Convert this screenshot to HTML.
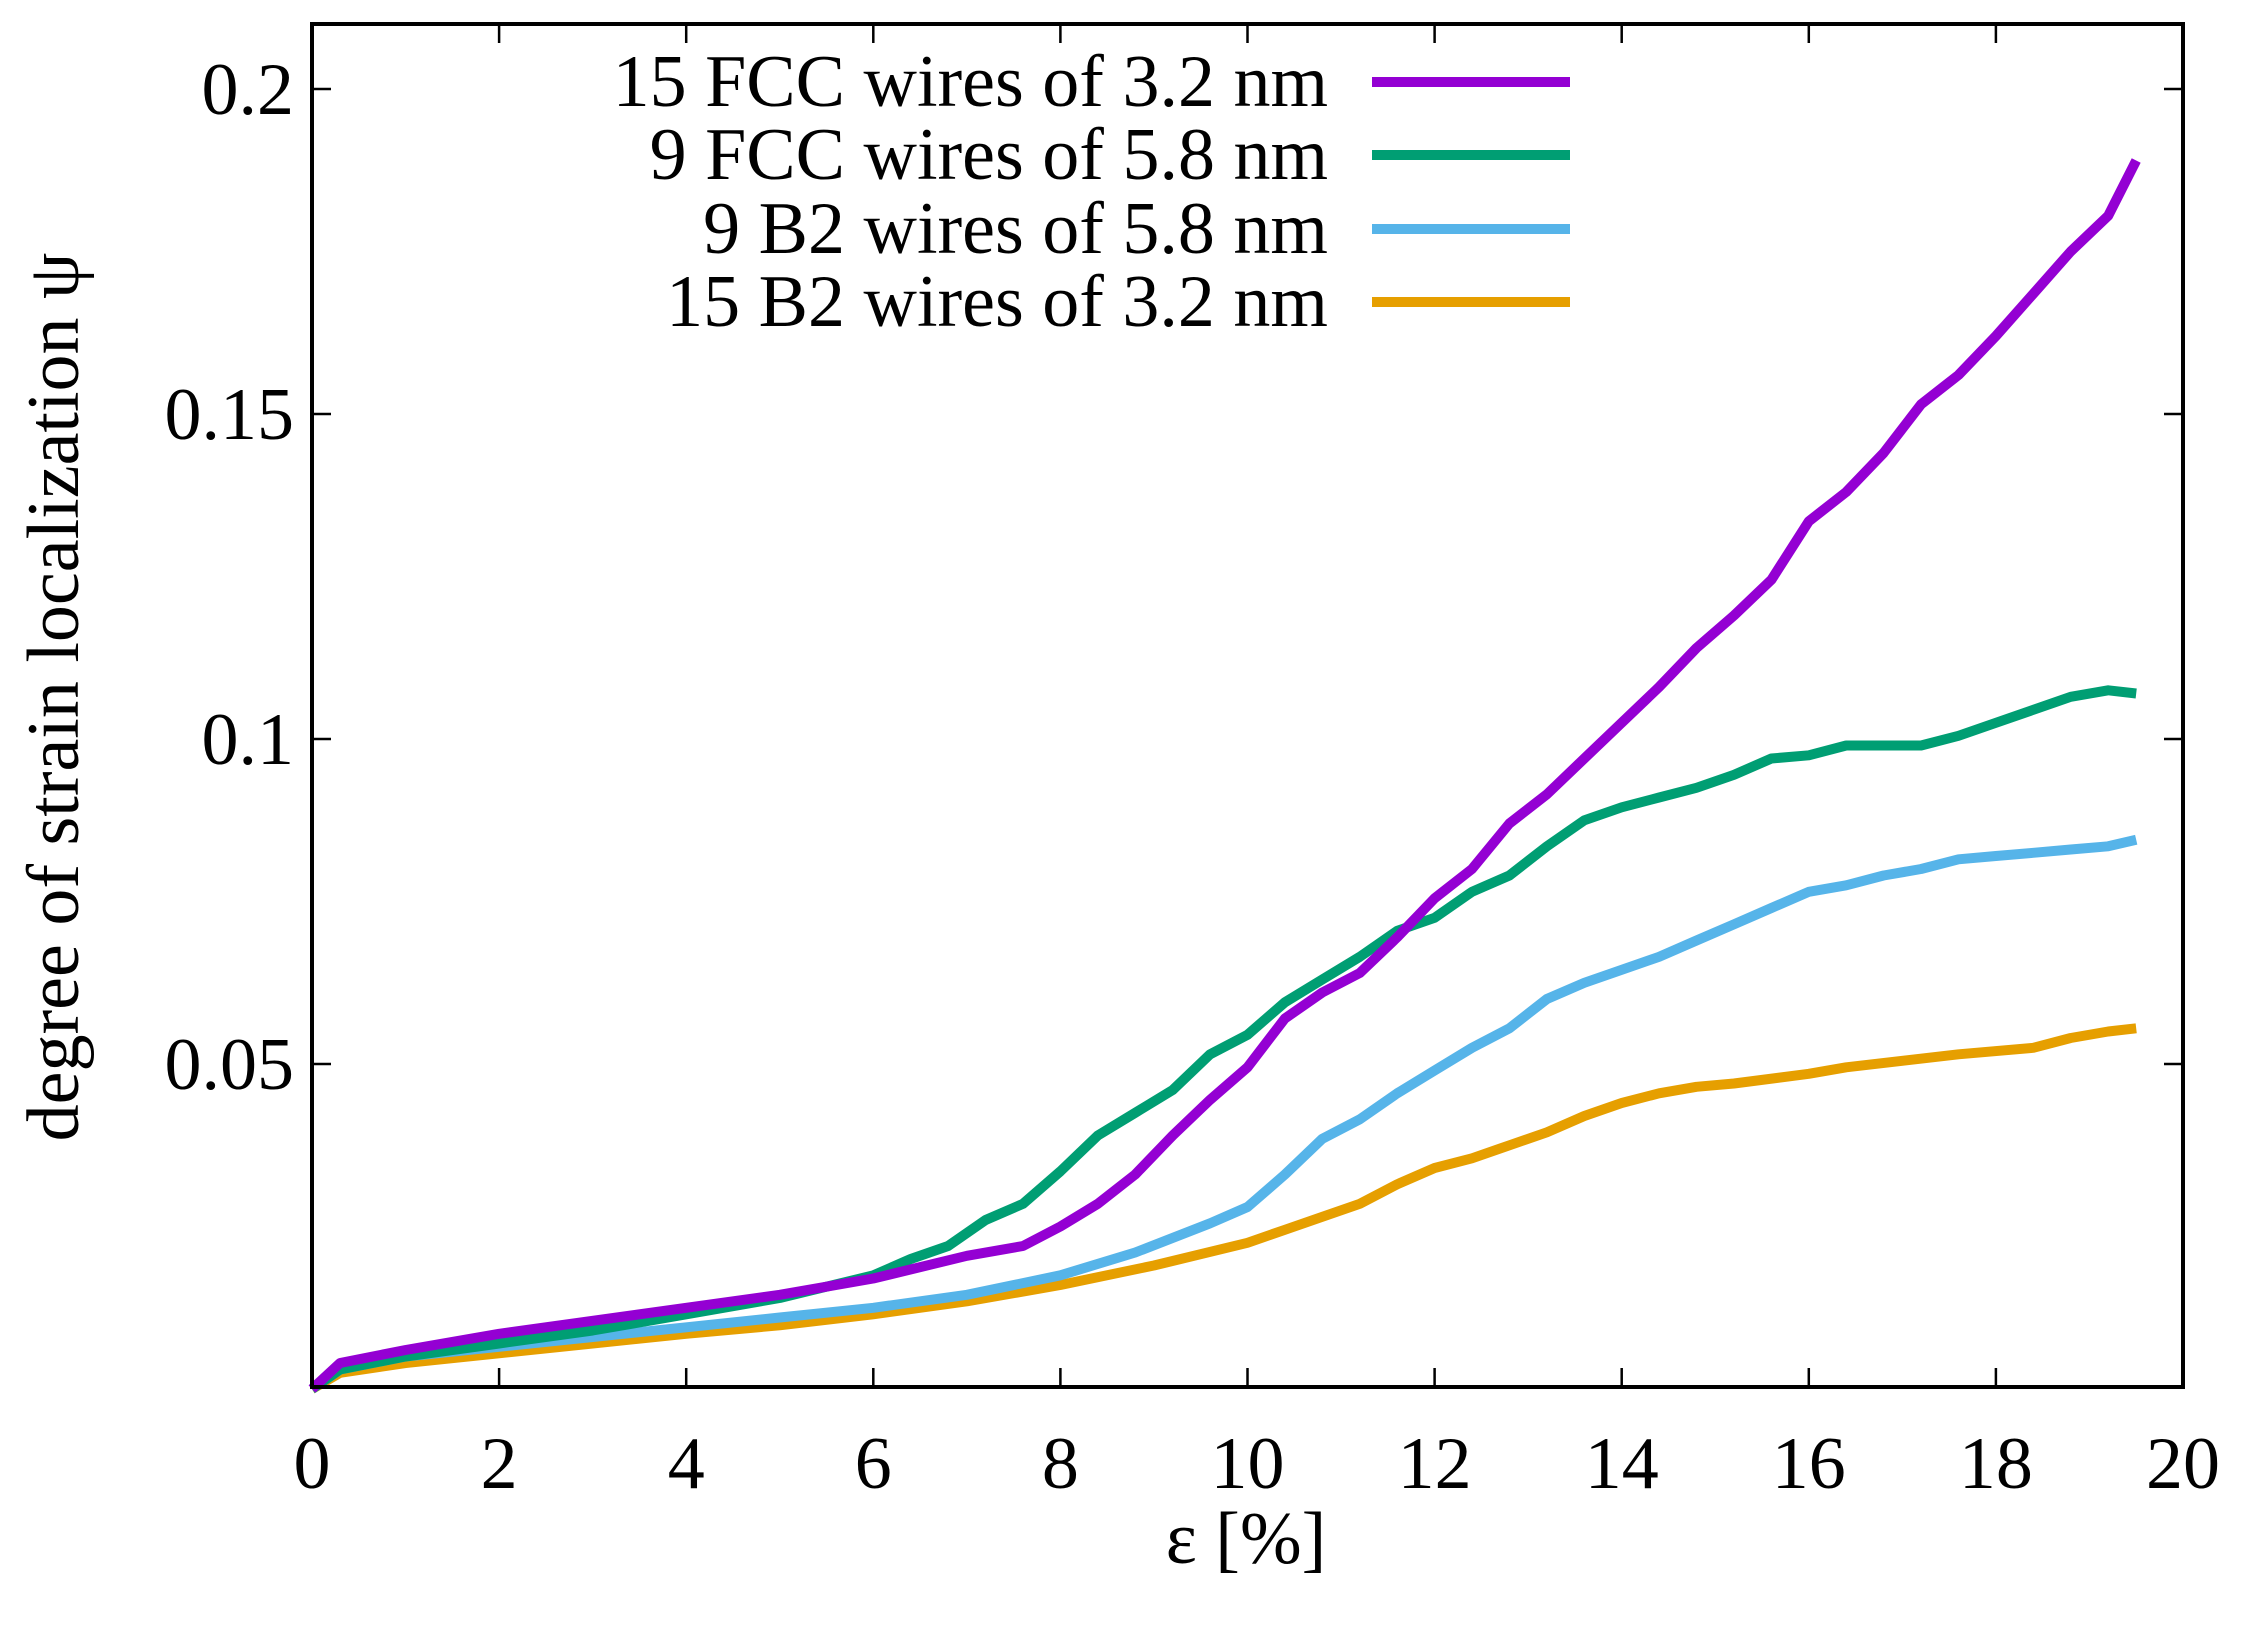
<!DOCTYPE html>
<html><head><meta charset="utf-8"><style>
html,body{margin:0;padding:0;background:#fff;}
svg{display:block;}
text{font-family:"Liberation Serif",serif;fill:#000;}
</style></head><body>
<svg id="s" width="2246" height="1630" viewBox="0 0 2246 1630" xmlns="http://www.w3.org/2000/svg">
<g id="ticks" stroke="#000" stroke-width="2.5"></g>
<g id="lbl" font-size="74"></g>
<g id="series" fill="none" stroke-width="10" stroke-linejoin="round"></g>
<rect x="312" y="24" width="1871" height="1363" fill="none" stroke="#000" stroke-width="4"/>
<g font-size="74" text-anchor="end">
<text x="1328" y="106">15 FCC wires of 3.2 nm</text>
<text x="1328" y="179">9 FCC wires of 5.8 nm</text>
<text x="1328" y="253">9 B2 wires of 5.8 nm</text>
<text x="1328" y="326">15 B2 wires of 3.2 nm</text>
</g>
<g stroke-width="10">
<line x1="1372" y1="82" x2="1570" y2="82" stroke="#9400d3"/>
<line x1="1372" y1="155" x2="1570" y2="155" stroke="#009e73"/>
<line x1="1372" y1="229" x2="1570" y2="229" stroke="#56b4e9"/>
<line x1="1372" y1="302" x2="1570" y2="302" stroke="#e69f00"/>
</g>
<text x="1246" y="1563" font-size="74" text-anchor="middle">ε [%]</text>
<text transform="translate(78,697) rotate(-90)" font-size="74" text-anchor="middle">degree of strain localization ψ</text>
</svg>
<script>
var X=function(e){return 312+e*93.55;},Y=function(v){return 1389-v*6500;};
var ns="http://www.w3.org/2000/svg";
function el(p,t,a,txt){var e=document.createElementNS(ns,t);for(var k in a)e.setAttribute(k,a[k]);if(txt)e.textContent=txt;document.getElementById(p).appendChild(e);}
for(var i=0;i<=10;i++){var x=X(2*i);el("ticks","line",{x1:x,y1:1387,x2:x,y2:1368});el("ticks","line",{x1:x,y1:24,x2:x,y2:43});
el("lbl","text",{x:x,y:1488,"text-anchor":"middle"},String(2*i));}
[0.05,0.1,0.15,0.2].forEach(function(v){var y=Y(v);el("ticks","line",{x1:312,y1:y,x2:331,y2:y});el("ticks","line",{x1:2183,y1:y,x2:2164,y2:y});
el("lbl","text",{x:294,y:y+25,"text-anchor":"end"},String(v));});
var D={
"#e69f00":[[0,0],[0.3,0.0025],[1,0.004],[2,0.0055],[3,0.007],[4,0.0085],[5,0.0098],[6,0.0115],[7,0.0135],[8,0.016],[9,0.019],[10,0.0225],[10.4,0.0245],[10.8,0.0265],[11.2,0.0285],[11.6,0.0315],[12,0.034],[12.4,0.0355],[12.8,0.0375],[13.2,0.0395],[13.6,0.042],[14,0.044],[14.4,0.0455],[14.8,0.0465],[15.2,0.047],[16,0.0485],[16.4,0.0495],[17,0.0505],[17.6,0.0515],[18.4,0.0525],[18.8,0.054],[19.2,0.055],[19.5,0.0555]],
"#56b4e9":[[0,0],[0.3,0.003],[1,0.005],[2,0.0065],[3,0.008],[4,0.0095],[5,0.011],[6,0.0125],[7,0.0145],[8,0.0175],[8.8,0.021],[9.6,0.0255],[10,0.028],[10.4,0.033],[10.8,0.0385],[11.2,0.0415],[11.6,0.0455],[12,0.049],[12.4,0.0525],[12.8,0.0555],[13.2,0.06],[13.6,0.0625],[14,0.0645],[14.4,0.0665],[14.8,0.069],[15.2,0.0715],[15.6,0.074],[16,0.0765],[16.4,0.0775],[16.8,0.079],[17.2,0.08],[17.6,0.0815],[18,0.082],[18.4,0.0825],[18.8,0.083],[19.2,0.0835],[19.5,0.0845]],
"#009e73":[[0,0],[0.3,0.003],[1,0.005],[2,0.007],[3,0.009],[4,0.0115],[5,0.014],[6,0.0175],[6.4,0.02],[6.8,0.022],[7.2,0.026],[7.6,0.0285],[8,0.0335],[8.4,0.039],[8.8,0.0425],[9.2,0.046],[9.6,0.0515],[10,0.0545],[10.4,0.0595],[10.8,0.063],[11.2,0.0665],[11.6,0.0705],[12,0.0725],[12.4,0.0765],[12.8,0.079],[13.2,0.0835],[13.6,0.0875],[14,0.0895],[14.4,0.091],[14.8,0.0925],[15.2,0.0945],[15.6,0.097],[16,0.0975],[16.4,0.099],[16.8,0.099],[17.2,0.099],[17.6,0.1005],[18,0.1025],[18.4,0.1045],[18.8,0.1065],[19.2,0.1075],[19.5,0.107]],
"#9400d3":[[0,0],[0.3,0.004],[1,0.006],[2,0.0085],[3,0.0105],[4,0.0125],[5,0.0145],[6,0.017],[7,0.0205],[7.6,0.022],[8,0.025],[8.4,0.0285],[8.8,0.033],[9.2,0.039],[9.6,0.0445],[10,0.0495],[10.4,0.057],[10.8,0.061],[11.2,0.064],[11.6,0.0695],[12,0.0755],[12.4,0.08],[12.8,0.087],[13.2,0.0915],[13.6,0.097],[14,0.1025],[14.4,0.108],[14.8,0.114],[15.2,0.119],[15.6,0.1245],[16,0.1335],[16.4,0.138],[16.8,0.144],[17.2,0.1515],[17.6,0.156],[18,0.162],[18.4,0.1685],[18.8,0.175],[19.2,0.1805],[19.5,0.189]]};
for(var c in D){el("series","polyline",{stroke:c,points:D[c].map(function(p){return X(p[0]).toFixed(1)+","+Y(p[1]).toFixed(1);}).join(" ")});}
</script>
</body></html>
